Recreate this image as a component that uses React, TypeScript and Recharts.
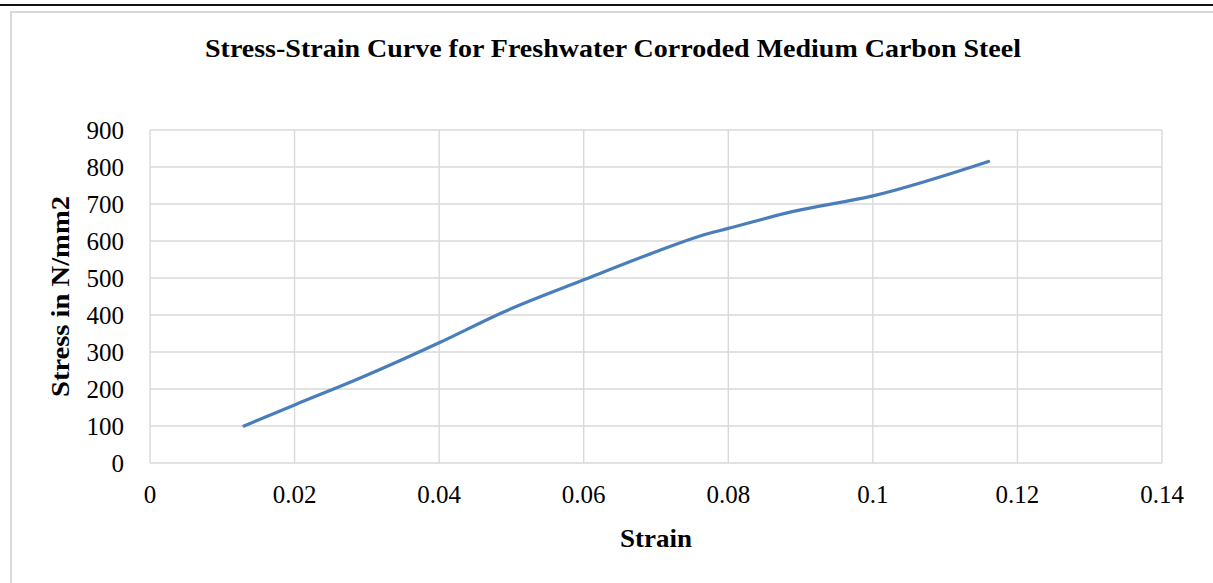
import React from "react";
import { LineChart, Line, XAxis, YAxis, CartesianGrid } from "recharts";

const strain = [0.013, 0.02, 0.029, 0.04, 0.049, 0.06, 0.07, 0.076, 0.08, 0.089, 0.1, 0.116];
const stress = [100, 157, 229, 325, 409, 495, 571, 613, 634, 680, 722, 815];
const xTicks = [0, 0.02, 0.04, 0.06, 0.08, 0.1, 0.12, 0.14];
const yTicks = [0, 100, 200, 300, 400, 500, 600, 700, 800, 900];
const title = "Stress-Strain Curve for Freshwater Corroded Medium Carbon Steel";
const xTitle = "Strain";
const yTitle = "Stress in N/mm2";

const data = strain.map((s, i) => ({ strain: s, stress: stress[i] }));

const FONT = "'Liberation Serif', 'Times New Roman', serif";

export default function App() {
  return (
    <div style={{ position: "absolute", left: 0, top: 0, width: 1213, height: 583, background: "#fff", overflow: "hidden" }}>
      <div style={{ position: "absolute", left: 0, top: 4, width: 1213, height: 2, background: "#111" }} />
      <div
        style={{
          position: "absolute",
          left: 10,
          top: 11,
          width: 1220,
          height: 600,
          border: "2px solid #d9d9d9",
          boxSizing: "border-box",
        }}
      />
      <div style={{ position: "absolute", left: 0, top: 0 }}>
        <LineChart
          width={1213}
          height={583}
          data={data}
          margin={{ top: 130, right: 51, bottom: 60, left: 0 }}
        >
          <CartesianGrid stroke="#d9d9d9" strokeWidth={1.4} horizontal vertical />
          <XAxis
            dataKey="strain"
            type="number"
            domain={[0, 0.14]}
            ticks={xTicks}
            interval={0}
            axisLine={false}
            tickLine={false}
            tickSize={0}
            tickMargin={22}
            height={60}
            tick={{ fill: "#000", fontSize: 25, fontFamily: FONT }}
            tickFormatter={(v: number) => String(v)}
          />
          <YAxis
            type="number"
            domain={[0, 900]}
            ticks={yTicks}
            interval={0}
            axisLine={false}
            tickLine={false}
            tickSize={0}
            tickMargin={26}
            width={150}
            tick={{ fill: "#000", fontSize: 25, fontFamily: FONT }}
          />
          <Line
            dataKey="stress"
            type="monotone"
            stroke="#4a7ebb"
            strokeWidth={3.2}
            strokeLinecap="round"
            dot={false}
            activeDot={false}
            isAnimationActive={false}
          />
        </LineChart>
      </div>
      <svg width={1213} height={583} style={{ position: "absolute", left: 0, top: 0, pointerEvents: "none" }}>
        <text
          x={613}
          y={57}
          textAnchor="middle"
          fontFamily={FONT}
          fontWeight="bold"
          fontSize={26}
          textLength={816}
          lengthAdjust="spacingAndGlyphs"
          fill="#000"
        >
          {title}
        </text>
        <text
          x={656}
          y={547}
          textAnchor="middle"
          fontFamily={FONT}
          fontWeight="bold"
          fontSize={25}
          textLength={72}
          lengthAdjust="spacingAndGlyphs"
          fill="#000"
        >
          {xTitle}
        </text>
        <text
          x={0}
          y={0}
          transform="translate(69 296.5) rotate(-90)"
          textAnchor="middle"
          fontFamily={FONT}
          fontWeight="bold"
          fontSize={25}
          textLength={201}
          lengthAdjust="spacingAndGlyphs"
          fill="#000"
        >
          {yTitle}
        </text>
      </svg>
    </div>
  );
}
